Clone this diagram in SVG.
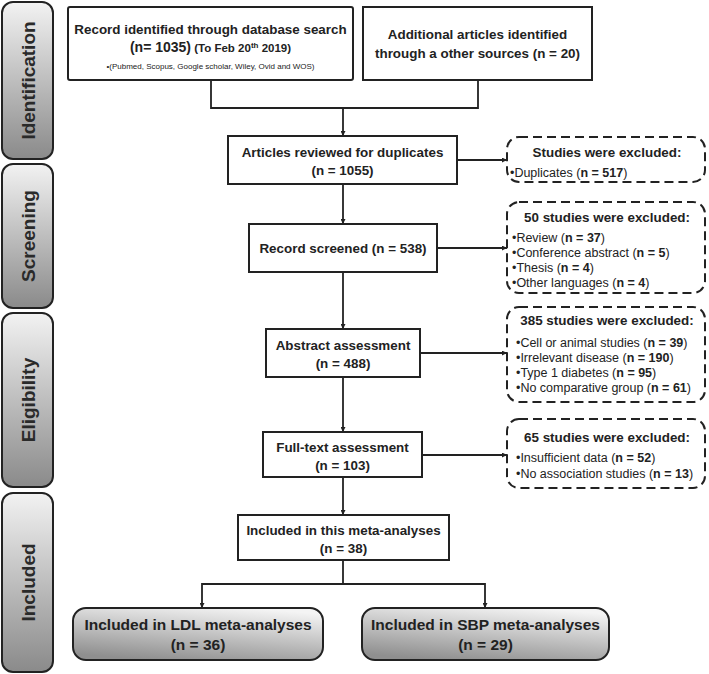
<svg xmlns="http://www.w3.org/2000/svg" width="709" height="674" viewBox="0 0 709 674">
<style>
text{font-family:"Liberation Sans",Arial,sans-serif;fill:#222}
.b{font-weight:bold}
.box{fill:#fff;stroke:#222;stroke-width:2}
.dash{fill:#fff;stroke:#222;stroke-width:2;stroke-dasharray:9 5}
.side{stroke:#222;stroke-width:2;fill:url(#gs)}
.fin{stroke:#222;stroke-width:2;fill:url(#gf)}
.ln{fill:none;stroke:#222;stroke-width:1.8}
.lab{font-size:19px;font-weight:bold;fill:#2a2a2a}
.t{font-size:13.4px;font-weight:bold}
.s{font-size:12.5px}
</style>
<defs>
<linearGradient id="gs" x1="0" y1="0" x2="0" y2="1">
<stop offset="0" stop-color="#f2f2f2"/><stop offset="1" stop-color="#8a8a8a"/>
</linearGradient>
<linearGradient id="gf" x1="0.7" y1="0" x2="0.3" y2="1">
<stop offset="0" stop-color="#f4f4f4"/><stop offset="1" stop-color="#8f8f8f"/>
</linearGradient>
<marker id="ah" viewBox="0 0 10 10" refX="10" refY="5" markerWidth="5" markerHeight="5" orient="auto-start-reverse" markerUnits="userSpaceOnUse">
<path d="M0,0 L10,5 L0,10 z" fill="#222"/>
</marker>
</defs>

<g id="stage-identification"><rect class="side" x="2" y="2" width="51" height="157" rx="11"/><text class="lab" transform="translate(34.5,80.5) rotate(-90)" text-anchor="middle">Identification</text></g>
<g id="stage-screening"><rect class="side" x="2" y="164" width="51" height="144" rx="11"/><text class="lab" transform="translate(34.5,236) rotate(-90)" text-anchor="middle">Screening</text></g>
<g id="stage-eligibility"><rect class="side" x="2" y="313" width="51" height="174" rx="11"/><text class="lab" transform="translate(34.5,400) rotate(-90)" text-anchor="middle">Eligibility</text></g>
<g id="stage-included"><rect class="side" x="2" y="493" width="51" height="179" rx="11"/><text class="lab" transform="translate(34.5,582.5) rotate(-90)" text-anchor="middle">Included</text></g>

<g id="connectors">
<path class="ln" d="M211,80 V108 H478 V80"/>
<path class="ln" d="M343,108 V136" marker-end="url(#ah)"/>
<path class="ln" d="M343,184 V224" marker-end="url(#ah)"/>
<path class="ln" d="M343,272 V329" marker-end="url(#ah)"/>
<path class="ln" d="M343,377 V432" marker-end="url(#ah)"/>
<path class="ln" d="M343,477 V515" marker-end="url(#ah)"/>
<path class="ln" d="M457,160 H507" marker-end="url(#ah)"/>
<path class="ln" d="M437,248 H507" marker-end="url(#ah)"/>
<path class="ln" d="M420,353 H507" marker-end="url(#ah)"/>
<path class="ln" d="M422,455 H507" marker-end="url(#ah)"/>
<path class="ln" d="M343,560 V584"/>
<path class="ln" d="M202,608 V584 H485 V608" marker-start="url(#ah)" marker-end="url(#ah)"/>
</g>

<g id="records-db"><rect class="box" x="68" y="7" width="285" height="73" rx="2"/>
<text class="t" x="210.5" y="34" text-anchor="middle" font-size="14">Record identified through database search</text>
<text class="t" x="210.5" y="52" text-anchor="middle"><tspan font-size="14">(n= 1035)</tspan><tspan font-size="11.5"> (To Feb 20</tspan><tspan font-size="8" dy="-4">th</tspan><tspan font-size="11.5" dy="4"> 2019)</tspan></text>
<text x="210.5" y="69" text-anchor="middle" font-size="8">•(Pubmed, Scopus, Google scholar, Wiley, Ovid and WOS)</text></g>

<g id="records-other"><rect class="box" x="363" y="7" width="229" height="73"/>
<text class="t" x="477.5" y="39" text-anchor="middle">Additional articles identified</text>
<text class="t" x="477.5" y="58" text-anchor="middle">through a other sources (n = 20)</text></g>

<g id="duplicates"><rect class="box" x="228" y="136" width="229" height="48"/>
<text class="t" x="342.5" y="157" text-anchor="middle">Articles reviewed for duplicates</text>
<text class="t" x="342.5" y="175" text-anchor="middle">(n = 1055)</text></g>

<g id="excl-duplicates"><rect class="dash" x="507" y="137" width="198" height="45" rx="12"/>
<text class="t" x="607" y="157" text-anchor="middle">Studies were excluded:</text>
<text class="s" x="510" y="177">•Duplicates (<tspan class="b">n = 517</tspan>)</text></g>

<g id="screened"><rect class="box" x="249" y="224" width="188" height="48"/>
<text class="t" x="343" y="253" text-anchor="middle">Record screened (n = 538)</text></g>

<g id="excl-screen"><rect class="dash" x="507" y="202" width="198" height="91" rx="12"/>
<text class="t" x="607" y="222" text-anchor="middle">50 studies were excluded:</text>
<text class="s" x="512" y="242">•Review (<tspan class="b">n = 37</tspan>)</text>
<text class="s" x="512" y="257">•Conference abstract (<tspan class="b">n = 5</tspan>)</text>
<text class="s" x="512" y="272">•Thesis (<tspan class="b">n = 4</tspan>)</text>
<text class="s" x="512" y="287">•Other languages (<tspan class="b">n = 4</tspan>)</text></g>

<g id="abstract"><rect class="box" x="266" y="329" width="154" height="48"/>
<text class="t" x="343" y="350" text-anchor="middle">Abstract assessment</text>
<text class="t" x="343" y="368" text-anchor="middle">(n = 488)</text></g>

<g id="excl-abstract"><rect class="dash" x="507" y="307" width="198" height="95" rx="12"/>
<text class="t" x="607" y="325" text-anchor="middle">385 studies were excluded:</text>
<text class="s" x="516" y="347">•Cell or animal studies (<tspan class="b">n = 39</tspan>)</text>
<text class="s" x="516" y="362">•Irrelevant disease (<tspan class="b">n = 190</tspan>)</text>
<text class="s" x="516" y="377">•Type 1 diabetes (<tspan class="b">n = 95</tspan>)</text>
<text class="s" x="516" y="392">•No comparative group (<tspan class="b">n = 61</tspan>)</text></g>

<g id="fulltext"><rect class="box" x="263" y="432" width="159" height="45"/>
<text class="t" x="342.5" y="452" text-anchor="middle">Full-text assessment</text>
<text class="t" x="342.5" y="470" text-anchor="middle">(n = 103)</text></g>

<g id="excl-fulltext"><rect class="dash" x="507" y="419" width="198" height="69" rx="12"/>
<text class="t" x="607" y="442" text-anchor="middle">65 studies were excluded:</text>
<text class="s" x="516" y="462">•Insufficient data (<tspan class="b">n = 52</tspan>)</text>
<text class="s" x="516" y="478">•No association studies (<tspan class="b">n = 13</tspan>)</text></g>

<g id="included"><rect class="box" x="238" y="515" width="211" height="45"/>
<text class="t" x="343.5" y="535" text-anchor="middle">Included in this meta-analyses</text>
<text class="t" x="343.5" y="553" text-anchor="middle">(n = 38)</text></g>

<g id="ldl"><rect class="fin" x="73" y="608" width="250" height="52" rx="13"/>
<text class="b" x="198" y="630" text-anchor="middle" font-size="15.5">Included in LDL meta-analyses</text>
<text class="b" x="198" y="650" text-anchor="middle" font-size="15.5">(n = 36)</text></g>

<g id="sbp"><rect class="fin" x="362" y="608" width="247" height="52" rx="13"/>
<text class="b" x="485.5" y="630" text-anchor="middle" font-size="15.5">Included in SBP meta-analyses</text>
<text class="b" x="485.5" y="650" text-anchor="middle" font-size="15.5">(n = 29)</text></g>
</svg>
